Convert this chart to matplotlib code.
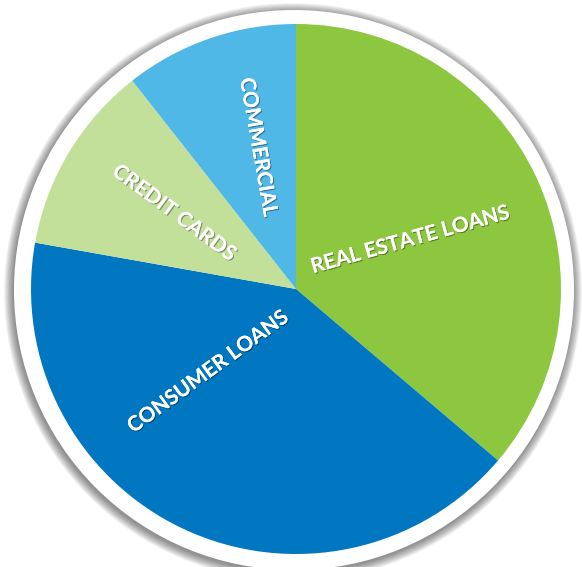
import matplotlib
matplotlib.use("Agg")
import matplotlib.pyplot as plt
import matplotlib.patheffects as pe
from matplotlib.patches import Circle

# Data
categories = ["REAL ESTATE LOANS", "CONSUMER LOANS", "CREDIT CARDS", "COMMERCIAL"]
shares = [36.2, 41.6, 11.6, 10.6]
colors = ["#8DC63F", "#0077C0", "#C2E09A", "#4FB8E7"]

W, H = 582, 567
fig = plt.figure(figsize=(W / 100, H / 100), dpi=100)
ax = fig.add_axes([0, 0, 1, 1])
ax.set_xlim(0, W)
ax.set_ylim(0, H)
ax.set_aspect("equal")
ax.axis("off")

cx, cy = 296, H - 289
r_pie = 265
rcx, rcy = 294, H - 290
r_ring = 280

# soft shadow behind the white ring
for i in range(12):
    ax.add_patch(Circle((rcx - 1, rcy - 2), r_ring + 9 - i * 0.8, facecolor="#000000",
                        alpha=0.045, edgecolor="none", zorder=1))
ax.add_patch(Circle((rcx, rcy), r_ring, facecolor="white", edgecolor="none", zorder=2))

wedges, _ = ax.pie(shares, colors=colors, startangle=90, counterclock=False,
                   center=(cx, cy), radius=r_pie, frame=True,
                   wedgeprops=dict(linewidth=0, zorder=3))
for w in wedges:
    w.set_zorder(3)
ax.set_xlim(0, W)
ax.set_ylim(0, H)
ax.axis("off")

# labels: (x, y in pixel from top, rotation)
label_pos = [(410, 240, 15.6), (208, 372, 36), (174, 213, -36.4), (258, 147, -80)]
shadow = [pe.withSimplePatchShadow(offset=(0.8, -0.8), shadow_rgbFace="#000000", alpha=0.35),
          pe.Normal()]
for name, (x, y, rot) in zip(categories, label_pos):
    ax.text(x, H - y, name, rotation=rot, rotation_mode="anchor", ha="center",
            va="center", color="white", fontsize=15, fontweight="bold",
            family=["Lato", "DejaVu Sans"], zorder=5, path_effects=shadow)

fig.savefig("out.png", dpi=100)
